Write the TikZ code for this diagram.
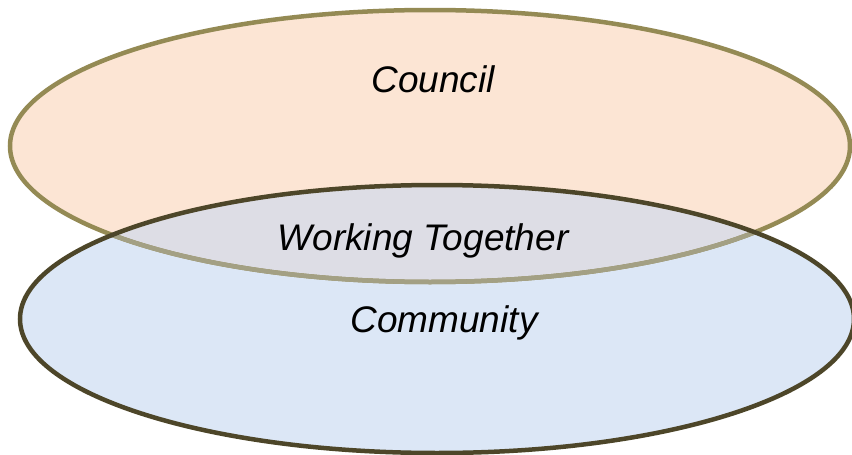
\documentclass[tikz,border=0pt]{standalone}
\usepackage{fontspec}
\setmainfont{Liberation Sans}
\begin{document}
\begin{tikzpicture}[x=1pt,y=-1pt,
  lbl/.style={font=\fontsize{37}{44}\selectfont\itshape, anchor=base, inner sep=0pt}]
\definecolor{cfill}{HTML}{FCE5D4}
\definecolor{mfill}{HTML}{DCE7F6}
\definecolor{ofill}{HTML}{DDDDE5}
\definecolor{cline}{HTML}{948A54}
\definecolor{cfade}{HTML}{A3A084}
\definecolor{mline}{HTML}{4D4629}
\useasboundingbox (0,0) rectangle (852,455);
\def\councilpath{(430,146) ellipse [x radius=420pt, y radius=136pt]}
\def\commpath{(437,319) ellipse [x radius=417pt, y radius=134pt]}
\fill[cfill] \councilpath;
\fill[mfill] \commpath;
\begin{scope}
  \clip \commpath;
  \fill[ofill] \councilpath;
\end{scope}
\draw[cline, line width=4.5pt] \councilpath;
\begin{scope}
  \clip \commpath;
  \draw[cfade, line width=4.5pt] \councilpath;
\end{scope}
\draw[mline, line width=4.5pt] \commpath;
\node[lbl] (council) at (433,92) {Council};
\node[lbl] (together) at (423,250) {Working Together};
\node[lbl] (community) at (444,332) {Community};
\end{tikzpicture}
\end{document}
